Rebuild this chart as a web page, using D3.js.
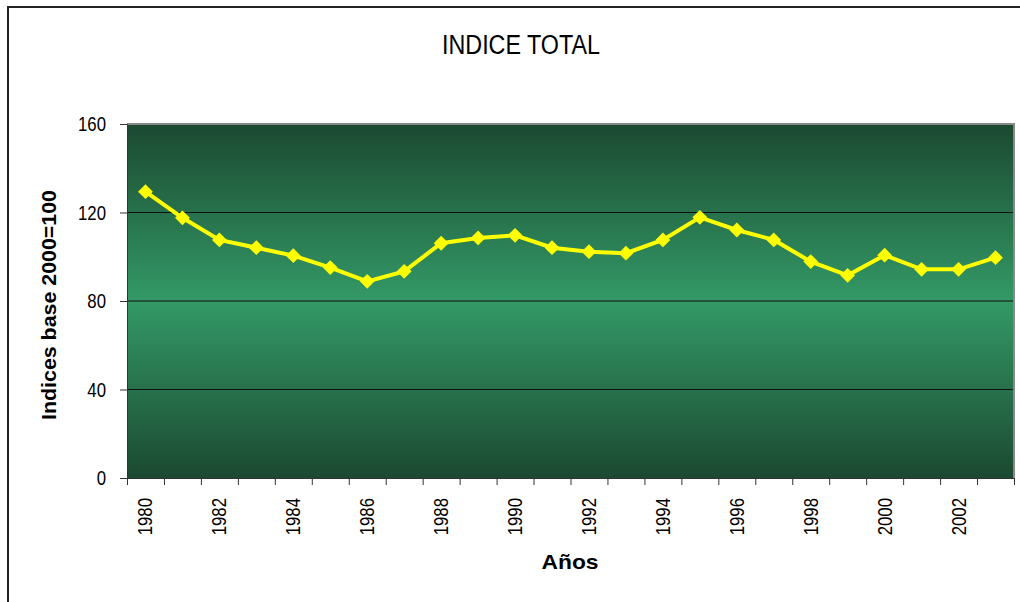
<!DOCTYPE html>
<html>
<head>
<meta charset="utf-8">
<script src="https://cdn.jsdelivr.net/npm/d3@7"></script>
<style>
  body { margin: 0; background: #fff; }
  .axis text { font-family: "Liberation Sans", Arial, sans-serif; font-size: 21px; fill: #000; }
  .axis path, .axis line { stroke: #333; }
</style>
</head>
<body>
<div id="chart"></div>
<script>
// data
const years = [1980, 1981, 1982, 1983, 1984, 1985, 1986, 1987, 1988, 1989, 1990, 1991,
               1992, 1993, 1994, 1995, 1996, 1997, 1998, 1999, 2000, 2001, 2002, 2003];
const indice = [129.4, 117.6, 107.6, 104.1, 100.5, 95.1, 88.9, 93.4, 106.1, 108.5, 109.7, 104.1,
                102.3, 101.6, 107.6, 117.8, 112.1, 107.6, 97.8, 91.6, 100.7, 94.3, 94.3, 99.6];
const yTicks = [0, 40, 80, 120, 160];
const yearLabels = years.filter(y => y % 2 === 0);

const width = 1020, height = 602;
const m = { top: 124, right: 6, bottom: 124, left: 127 };
const pw = width - m.left - m.right;
const ph = height - m.top - m.bottom;
const narrow = 0.8; // no condensed font installed, squeeze the tick labels instead

const svg = d3.select('#chart').append('svg')
    .attr('width', width)
    .attr('height', height);

// outer chart frame (runs off the right and bottom of the picture)
svg.append('rect')
    .attr('x', 8).attr('y', 7)
    .attr('width', 1030).attr('height', 620)
    .attr('fill', 'none')
    .attr('stroke', '#222')
    .attr('stroke-width', 2);

const defs = svg.append('defs');
const grad = defs.append('linearGradient')
    .attr('id', 'bg').attr('x1', 0).attr('y1', 0).attr('x2', 0).attr('y2', 1);
grad.append('stop').attr('offset', '0%').attr('stop-color', '#1b4931');
grad.append('stop').attr('offset', '50%').attr('stop-color', '#339966');
grad.append('stop').attr('offset', '100%').attr('stop-color', '#1b4931');

const plot = svg.append('g')
    .attr('transform', `translate(${m.left},${m.top})`);

const x = d3.scaleBand().domain(years).range([0, pw]);
const y = d3.scaleLinear().domain([0, 160]).range([ph, 0]);

plot.append('rect')
    .attr('width', pw).attr('height', ph)
    .attr('fill', 'url(#bg)');

// gridlines
plot.selectAll('.grid')
    .data(yTicks.filter(d => d > 0 && d < 160))
  .enter().append('line')
    .attr('x1', 0).attr('x2', pw)
    .attr('y1', d => y(d)).attr('y2', d => y(d))
    .attr('stroke', '#111').attr('stroke-width', 1);

// gray frame on top and right
plot.append('path')
    .attr('d', `M0,0H${pw}V${ph}`)
    .attr('fill', 'none')
    .attr('stroke', '#888')
    .attr('stroke-width', 2);

const yAxis = d3.axisLeft(y).tickValues(yTicks).tickSize(7).tickPadding(6).tickSizeOuter(0);
const yg = plot.append('g').attr('class', 'y axis').call(yAxis);
yg.selectAll('.tick text')
    .attr('x', -21 / narrow)
    .attr('transform', `scale(${narrow},1)`);

// category axis: ticks at band edges, labels at every other band centre
const xEdge = d3.scaleLinear().domain([0, years.length]).range([0, pw]);
const xg = plot.append('g').attr('class', 'x axis')
    .attr('transform', `translate(0,${ph})`)
    .call(d3.axisBottom(xEdge).tickValues(d3.range(years.length + 1)).tickSize(7).tickSizeOuter(0).tickFormat(''));

xg.selectAll('.yl')
    .data(yearLabels)
  .enter().append('text')
    .attr('class', 'yl')
    .attr('transform', d => `translate(${x(d) + x.bandwidth() / 2 + 7},20) rotate(-90) scale(${narrow},1)`)
    .attr('text-anchor', 'end')
    .text(d => d);

// line + diamond markers
const line = d3.line()
    .x((d, i) => x(years[i]) + x.bandwidth() / 2)
    .y(d => y(d));

plot.append('path')
    .datum(indice)
    .attr('d', line)
    .attr('fill', 'none')
    .attr('stroke', '#ffff00')
    .attr('stroke-width', 4);

plot.selectAll('.dot')
    .data(indice)
  .enter().append('path')
    .attr('class', 'dot')
    .attr('d', d3.symbol(d3.symbolDiamond2, 140))
    .attr('transform', (d, i) => `translate(${x(years[i]) + x.bandwidth() / 2},${y(d)})`)
    .attr('fill', '#ffff00');

// titles
svg.append('text')
    .attr('x', 521).attr('y', 54)
    .attr('text-anchor', 'middle')
    .attr('textLength', 158)
    .attr('lengthAdjust', 'spacingAndGlyphs')
    .style('font-family', '"Liberation Sans", Arial, sans-serif')
    .style('font-size', '27px')
    .text('INDICE TOTAL');

svg.append('text')
    .attr('transform', 'translate(56,305) rotate(-90)')
    .attr('text-anchor', 'middle')
    .attr('textLength', 230)
    .attr('lengthAdjust', 'spacingAndGlyphs')
    .style('font-family', '"Liberation Sans", Arial, sans-serif')
    .style('font-weight', 'bold')
    .style('font-size', '20px')
    .text('Indices base 2000=100');

svg.append('text')
    .attr('x', 570).attr('y', 569)
    .attr('text-anchor', 'middle')
    .attr('textLength', 57)
    .attr('lengthAdjust', 'spacingAndGlyphs')
    .style('font-family', '"Liberation Sans", Arial, sans-serif')
    .style('font-weight', 'bold')
    .style('font-size', '21px')
    .text('Años');
</script>
</body>
</html>
